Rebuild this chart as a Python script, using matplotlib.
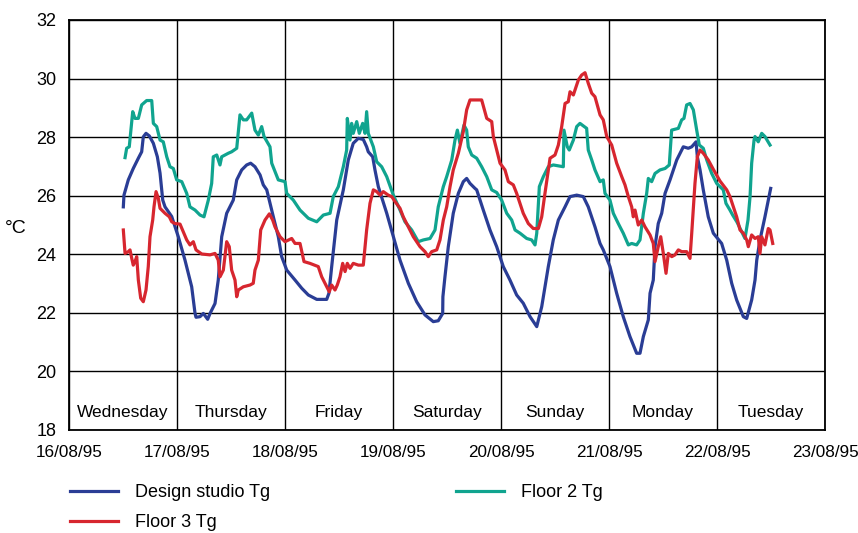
import matplotlib
matplotlib.use("Agg")
import matplotlib.pyplot as plt

plt.rcParams['font.family'] = ['Liberation Sans', 'DejaVu Sans']

# tick labels and day names
date_labels = ['16/08/95', '17/08/95', '18/08/95', '19/08/95',
               '20/08/95', '21/08/95', '22/08/95', '23/08/95']
day_names = ['Wednesday', 'Thursday', 'Friday', 'Saturday', 'Sunday', 'Monday', 'Tuesday']

# Design studio Tg (days since 16/08/95 00:00, deg C)
studio_t = [0.503, 0.509, 0.549, 0.595, 0.642, 0.673, 0.688, 0.713, 0.744, 0.781, 0.818, 0.843,
            0.868, 0.889, 0.951, 1.012, 1.074, 1.136, 1.167, 1.176, 1.213, 1.244, 1.284, 1.306,
            1.352, 1.382, 1.414, 1.460, 1.521, 1.553, 1.599, 1.645, 1.682, 1.722, 1.769, 1.799,
            1.831, 1.861, 1.892, 1.938, 1.969, 2.016, 2.093, 2.155, 2.216, 2.294, 2.386, 2.407,
            2.432, 2.479, 2.540, 2.586, 2.632, 2.679, 2.725, 2.756, 2.771, 2.812, 2.833, 2.864,
            2.942, 3.003, 3.065, 3.142, 3.219, 3.296, 3.373, 3.419, 3.460, 3.462, 3.481, 3.512,
            3.558, 3.605, 3.651, 3.682, 3.713, 3.759, 3.775, 3.836, 3.898, 3.960, 4.021, 4.083,
            4.145, 4.206, 4.269, 4.331, 4.377, 4.438, 4.484, 4.531, 4.593, 4.639, 4.701, 4.762,
            4.808, 4.870, 4.917, 4.947, 5.009, 5.071, 5.132, 5.194, 5.256, 5.287, 5.318, 5.364,
            5.380, 5.410, 5.426, 5.456, 5.488, 5.519, 5.565, 5.627, 5.688, 5.734, 5.766, 5.806,
            5.818, 5.843, 5.873, 5.919, 5.966, 6.043, 6.090, 6.136, 6.182, 6.244, 6.275, 6.321,
            6.352, 6.368, 6.398, 6.444, 6.497]
studio_v = [25.62, 26.02, 26.54, 26.93, 27.28, 27.50, 28.01, 28.13, 28.04, 27.79, 27.33, 26.77,
            25.85, 25.62, 25.29, 24.60, 23.80, 22.89, 21.98, 21.85, 21.87, 21.98, 21.78, 21.98,
            22.32, 23.12, 24.60, 25.40, 25.85, 26.54, 26.88, 27.05, 27.11, 26.99, 26.71, 26.37,
            26.20, 25.74, 25.28, 24.60, 23.92, 23.46, 23.12, 22.84, 22.61, 22.46, 22.46, 22.67,
            23.57, 25.17, 26.20, 27.22, 27.79, 27.96, 27.92, 27.67, 27.50, 27.33, 26.88, 26.31,
            25.40, 24.60, 23.80, 23.01, 22.38, 21.93, 21.70, 21.73, 21.98, 22.55, 23.23, 24.26,
            25.40, 26.08, 26.48, 26.59, 26.42, 26.25, 26.20, 25.51, 24.83, 24.26, 23.58, 23.12,
            22.61, 22.33, 21.87, 21.53, 22.21, 23.58, 24.49, 25.17, 25.62, 25.97, 26.02, 25.97,
            25.62, 24.94, 24.37, 24.15, 23.58, 22.67, 21.87, 21.19, 20.62, 20.62, 21.19, 21.76,
            22.67, 23.12, 24.26, 25.05, 25.40, 26.08, 26.54, 27.22, 27.67, 27.62, 27.67, 27.84,
            27.33, 26.88, 26.20, 25.28, 24.72, 24.37, 23.80, 23.01, 22.44, 21.87, 21.81, 22.44,
            23.12, 23.80, 24.49, 25.28, 26.25]

# Floor 2 Tg
floor2_t = [0.519, 0.534, 0.558, 0.590, 0.611, 0.642, 0.673, 0.719, 0.766, 0.781, 0.812, 0.843,
            0.873, 0.905, 0.935, 0.966, 0.997, 1.044, 1.090, 1.120, 1.167, 1.213, 1.250, 1.290,
            1.321, 1.336, 1.368, 1.398, 1.414, 1.475, 1.506, 1.553, 1.583, 1.614, 1.645, 1.692,
            1.722, 1.753, 1.784, 1.806, 1.861, 1.877, 1.938, 2.000, 2.016, 2.077, 2.139, 2.216,
            2.294, 2.355, 2.417, 2.447, 2.494, 2.540, 2.571, 2.577, 2.602, 2.617, 2.632, 2.664,
            2.688, 2.719, 2.741, 2.756, 2.771, 2.818, 2.849, 2.895, 2.942, 3.003, 3.065, 3.111,
            3.173, 3.234, 3.281, 3.343, 3.389, 3.419, 3.466, 3.497, 3.544, 3.574, 3.596, 3.620,
            3.657, 3.682, 3.697, 3.729, 3.775, 3.821, 3.868, 3.914, 3.960, 4.006, 4.053, 4.099,
            4.130, 4.176, 4.238, 4.284, 4.315, 4.331, 4.355, 4.392, 4.438, 4.484, 4.577, 4.583,
            4.614, 4.632, 4.670, 4.701, 4.731, 4.793, 4.808, 4.840, 4.870, 4.917, 4.947, 4.963,
            5.009, 5.040, 5.086, 5.132, 5.179, 5.210, 5.256, 5.287, 5.318, 5.349, 5.364, 5.395,
            5.426, 5.472, 5.519, 5.558, 5.580, 5.642, 5.673, 5.694, 5.719, 5.750, 5.781, 5.812,
            5.836, 5.873, 5.905, 5.951, 5.997, 6.028, 6.058, 6.083, 6.120, 6.145, 6.185, 6.244,
            6.259, 6.287, 6.306, 6.321, 6.343, 6.352, 6.382, 6.414, 6.444, 6.491]
floor2_v = [27.30, 27.62, 27.67, 28.87, 28.64, 28.64, 29.10, 29.25, 29.25, 28.47, 28.36, 27.90,
            27.84, 27.33, 26.99, 26.93, 26.54, 26.48, 26.08, 25.62, 25.51, 25.34, 25.28, 25.85,
            26.42, 27.33, 27.39, 27.05, 27.33, 27.45, 27.50, 27.62, 28.76, 28.59, 28.59, 28.82,
            28.24, 28.07, 28.36, 28.02, 27.67, 27.11, 26.54, 26.48, 26.08, 25.85, 25.51, 25.23,
            25.11, 25.34, 25.40, 25.97, 26.31, 26.99, 27.56, 28.64, 27.90, 28.47, 28.13, 28.53,
            28.13, 28.47, 28.13, 28.87, 28.13, 27.67, 27.16, 26.99, 26.65, 26.02, 25.51, 25.11,
            24.83, 24.43, 24.49, 24.54, 24.83, 25.62, 26.31, 26.65, 27.22, 27.90, 28.24, 27.79,
            28.41, 28.24, 27.67, 27.39, 27.28, 26.99, 26.65, 26.20, 26.11, 25.85, 25.40, 25.17,
            24.83, 24.72, 24.54, 24.49, 24.32, 24.72, 26.31, 26.65, 26.99, 27.05, 26.99, 28.24,
            27.67, 27.56, 27.90, 28.36, 28.47, 28.30, 27.56, 27.22, 26.88, 26.48, 26.54, 26.08,
            25.85, 25.40, 25.05, 24.72, 24.32, 24.37, 24.32, 24.49, 25.40, 26.08, 26.59, 26.48,
            26.76, 26.88, 26.93, 27.05, 28.24, 28.30, 28.59, 28.64, 29.10, 29.15, 28.93, 28.24,
            27.73, 27.62, 27.22, 26.76, 26.42, 26.31, 26.20, 25.74, 25.51, 25.34, 25.10, 24.66,
            24.54, 25.17, 25.97, 27.11, 27.90, 28.02, 27.84, 28.13, 28.02, 27.73]

# Floor 3 Tg
floor3_t = [0.503, 0.519, 0.549, 0.565, 0.581, 0.595, 0.611, 0.627, 0.642, 0.664, 0.688, 0.713,
            0.734, 0.750, 0.775, 0.787, 0.806, 0.827, 0.843, 0.889, 0.929, 0.951, 0.981, 1.028,
            1.058, 1.090, 1.120, 1.151, 1.176, 1.229, 1.306, 1.352, 1.382, 1.398, 1.429, 1.460,
            1.484, 1.506, 1.537, 1.553, 1.568, 1.614, 1.676, 1.706, 1.722, 1.753, 1.775, 1.815,
            1.855, 1.886, 1.907, 1.954, 2.000, 2.062, 2.093, 2.139, 2.176, 2.231, 2.308, 2.340,
            2.370, 2.410, 2.432, 2.463, 2.484, 2.509, 2.534, 2.556, 2.577, 2.602, 2.632, 2.679,
            2.725, 2.756, 2.787, 2.818, 2.849, 2.880, 2.910, 2.956, 2.988, 3.019, 3.065, 3.095,
            3.142, 3.188, 3.250, 3.296, 3.327, 3.358, 3.405, 3.435, 3.466, 3.497, 3.528, 3.558,
            3.605, 3.651, 3.682, 3.713, 3.821, 3.868, 3.914, 3.929, 3.960, 3.991, 4.037, 4.068,
            4.114, 4.145, 4.176, 4.206, 4.253, 4.299, 4.346, 4.377, 4.407, 4.454, 4.500, 4.531,
            4.562, 4.593, 4.623, 4.639, 4.670, 4.701, 4.716, 4.747, 4.778, 4.808, 4.840, 4.870,
            4.917, 4.947, 4.979, 5.025, 5.071, 5.118, 5.148, 5.179, 5.210, 5.225, 5.241, 5.271,
            5.303, 5.333, 5.380, 5.410, 5.426, 5.456, 5.479, 5.503, 5.528, 5.549, 5.581, 5.611,
            5.642, 5.673, 5.719, 5.750, 5.766, 5.796, 5.818, 5.843, 5.873, 5.919, 5.966, 6.028,
            6.090, 6.120, 6.151, 6.182, 6.213, 6.244, 6.275, 6.290, 6.321, 6.352, 6.382, 6.398,
            6.414, 6.444, 6.475, 6.491, 6.516]
floor3_v = [24.83, 24.03, 24.09, 24.15, 23.86, 23.63, 23.75, 23.92, 23.12, 22.50, 22.38, 22.78,
            23.58, 24.60, 25.17, 25.62, 26.14, 25.91, 25.57, 25.40, 25.28, 25.11, 25.05, 25.03,
            24.77, 24.49, 24.32, 24.43, 24.15, 24.01, 23.98, 24.03, 23.80, 23.23, 23.46, 24.43,
            24.26, 23.46, 23.12, 22.55, 22.78, 22.89, 22.95, 23.01, 23.46, 23.80, 24.83, 25.17,
            25.38, 25.17, 24.94, 24.60, 24.43, 24.54, 24.37, 24.37, 23.75, 23.69, 23.58, 23.23,
            23.01, 22.72, 22.95, 22.78, 22.95, 23.23, 23.69, 23.41, 23.69, 23.52, 23.69, 23.63,
            23.63, 24.83, 25.74, 26.20, 26.14, 26.02, 26.14, 26.02, 25.97, 25.80, 25.57, 25.28,
            24.94, 24.60, 24.26, 24.09, 23.92, 24.09, 24.15, 24.49, 25.17, 25.62, 26.31, 26.88,
            27.45, 28.19, 28.93, 29.27, 29.27, 28.64, 28.53, 28.02, 27.56, 27.11, 26.88, 26.48,
            26.37, 26.08, 25.74, 25.40, 25.05, 24.88, 24.88, 25.28, 26.08, 27.28, 27.39, 27.73,
            28.36, 29.15, 29.21, 29.55, 29.44, 29.78, 29.95, 30.12, 30.20, 29.84, 29.50, 29.38,
            28.76, 28.59, 28.02, 27.73, 27.11, 26.65, 26.37, 25.97, 25.62, 25.28, 25.51, 25.00,
            25.17, 24.94, 24.66, 24.37, 23.75, 24.26, 24.60, 24.03, 23.35, 24.03, 23.92, 23.98,
            24.15, 24.09, 24.09, 23.86, 24.72, 26.42, 27.33, 27.56, 27.45, 27.22, 26.90, 26.50,
            26.20, 25.97, 25.62, 25.28, 24.83, 24.72, 24.49, 24.26, 24.66, 24.54, 24.60, 24.03,
            24.60, 24.32, 24.88, 24.83, 24.37]

blue = '#2a3d95'
green = '#10a48f'
red = '#d7262f'

fig = plt.figure(figsize=(8.58, 5.33), dpi=100)
ax = fig.add_axes([69 / 858, 103 / 533, 756 / 858, 410 / 533])

l1, = ax.plot(studio_t, studio_v, color=blue, lw=2.3, label='Design studio Tg')
l2, = ax.plot(floor2_t, floor2_v, color=green, lw=2.3, label='Floor 2 Tg')
l3, = ax.plot(floor3_t, floor3_v, color=red, lw=2.3, label='Floor 3 Tg')

ax.set_xlim(0, 7)
ax.set_ylim(18, 32)
ax.set_xticks(range(8))
ax.set_xticklabels(date_labels)
ax.set_yticks(range(18, 33, 2))
ax.tick_params(length=0, labelsize=13)
ax.tick_params(axis='x', pad=11, labelsize=12.3)
ax.tick_params(axis='y', pad=9)
ax.grid(True, color='black', lw=1.0)
ax.set_axisbelow(True)
for s in ax.spines.values():
    s.set_linewidth(1.3)

for i, name in enumerate(day_names):
    ax.text(i + 0.5, 18.6, name, ha='center', va='center', fontsize=12.5)

fig.text(16 / 858, 1 - 228 / 533, '°C', ha='center', va='center', fontsize=14)

fig.legend(handles=[l1, l3, l2], loc='upper left', bbox_to_anchor=(70 / 858, 1 - 484 / 533),
           ncol=2, frameon=False, fontsize=13, borderpad=0, borderaxespad=0,
           handlelength=2.65, handletextpad=0.95, columnspacing=10.3, labelspacing=0.72)

fig.savefig('out.png', dpi=100)
